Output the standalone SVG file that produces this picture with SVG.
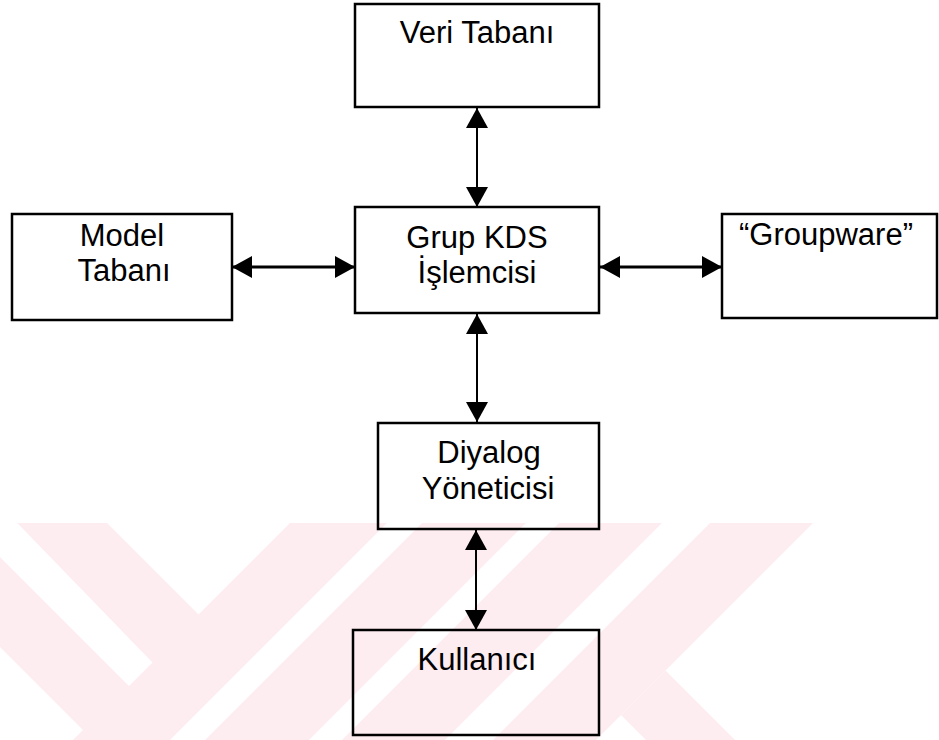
<svg xmlns="http://www.w3.org/2000/svg" width="939" height="740" viewBox="0 0 939 740">
  <defs>
    <style>
      .box { fill: none; stroke: #000; stroke-width: 2.5; }
      .label { font-family: "Liberation Sans", Arial, sans-serif; font-size: 31px; fill: #000; text-anchor: middle; }
      .link { stroke: #000; stroke-width: 2; fill: none; marker-start: url(#head); marker-end: url(#head); }
      .link.h { stroke-width: 2.8; }
      .mark { fill: #fdecf0; }
      .gap { fill: #fff; }
    </style>
    <marker id="head" markerUnits="userSpaceOnUse" viewBox="0 0 20 22" refX="20" refY="11" markerWidth="20" markerHeight="22" orient="auto-start-reverse">
      <path d="M0,0 L20,11 L0,22 z" fill="#000"/>
    </marker>
    <clipPath id="band">
      <rect x="0" y="523" width="939" height="217"/>
    </clipPath>
  </defs>

  <rect width="939" height="740" fill="#fff"/>

  <!-- faint striped emblem along the lower edge -->
  <g id="emblem" clip-path="url(#band)">
    <polygon class="mark" points="84,500 344,760 113,760 -147,500"/>
    <polygon class="mark" points="313,500 836,500 576,760 53,760"/>
    <polygon class="mark" points="665.5,670.5 755,760 666,760 621,715"/>
    <polygon class="gap" points="-5,500 152.5,662.5 129,686 -57,500"/>
    <polygon class="gap" points="410,500 445,500 185,760 150,760"/>
    <polygon class="gap" points="549,500 582,500 322,760 289,760"/>
    <polygon class="gap" points="685,500 733,500 473,760 425,760"/>
  </g>

  <g id="connectors">
    <line class="link" x1="477" y1="108" x2="477" y2="207"/>
    <line class="link" x1="477" y1="314" x2="477" y2="422"/>
    <line class="link" x1="476" y1="530" x2="476" y2="630"/>
    <line class="link h" x1="232" y1="267" x2="355" y2="267"/>
    <line class="link h" x1="600" y1="267" x2="722" y2="267"/>
  </g>

  <g id="veri-tabani">
    <rect class="box" x="355" y="4" width="244" height="103"/>
    <text class="label" x="477" y="43">Veri Tabanı</text>
  </g>

  <g id="grup-kds">
    <rect class="box" x="355" y="207" width="244" height="106"/>
    <text class="label" x="477" y="248">Grup KDS</text>
    <text class="label" x="477" y="283">İşlemcisi</text>
  </g>

  <g id="model-tabani">
    <rect class="box" x="12" y="214" width="220" height="106"/>
    <text class="label" x="122" y="246">Model</text>
    <text class="label" x="124" y="281">Tabanı</text>
  </g>

  <g id="groupware">
    <rect class="box" x="722" y="214" width="215" height="104"/>
    <text class="label" x="826" y="245">“Groupware”</text>
  </g>

  <g id="diyalog">
    <rect class="box" x="378" y="423" width="221" height="106"/>
    <text class="label" x="489" y="463">Diyalog</text>
    <text class="label" x="488" y="499">Yöneticisi</text>
  </g>

  <g id="kullanici">
    <rect class="box" x="353" y="630" width="246" height="105"/>
    <text class="label" x="477" y="670">Kullanıcı</text>
  </g>
</svg>
